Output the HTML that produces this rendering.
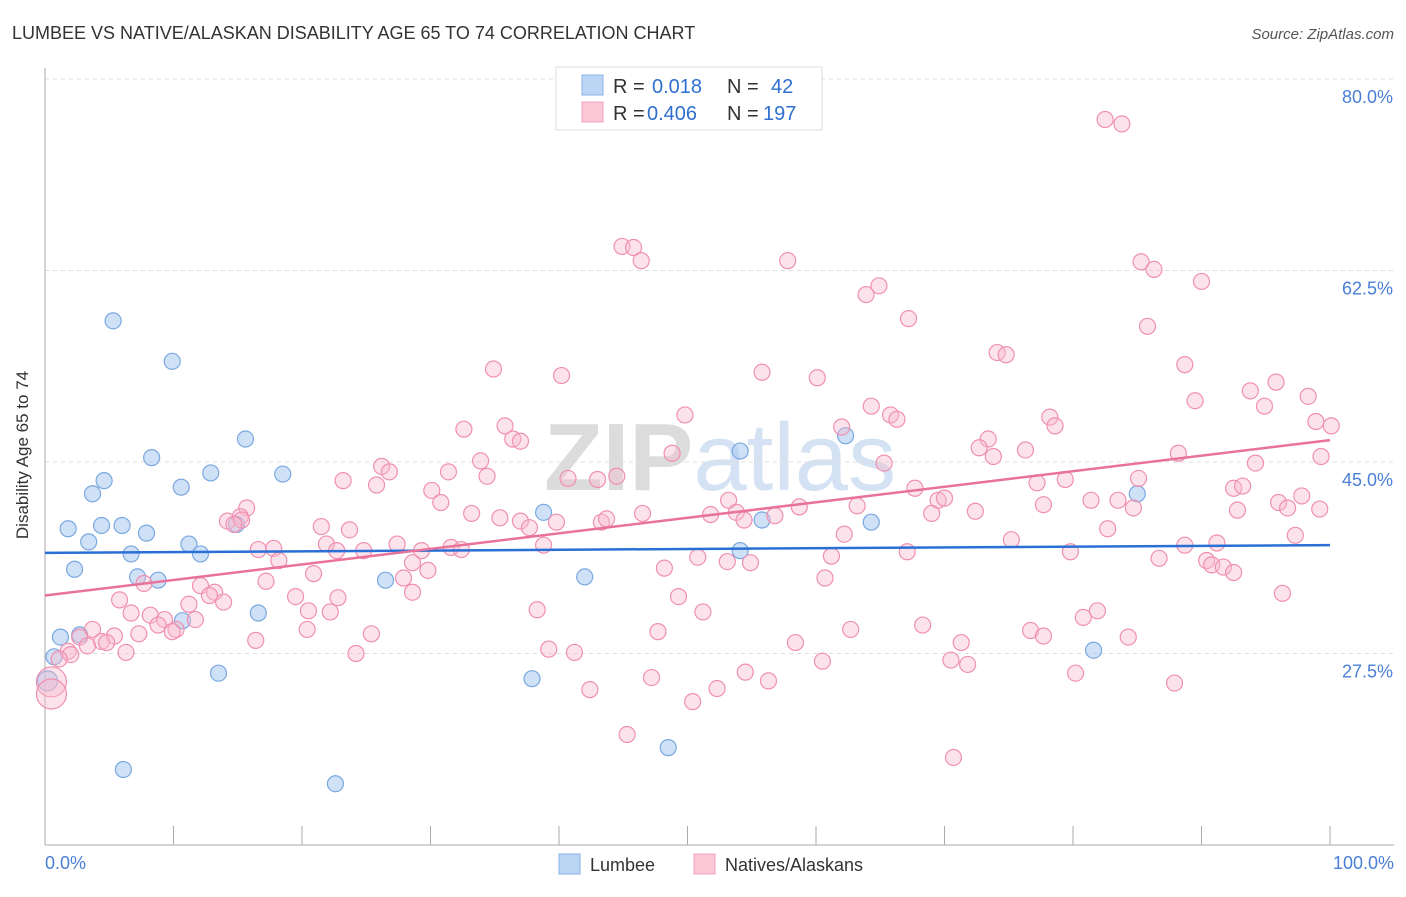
<!DOCTYPE html>
<html><head><meta charset="utf-8"><style>
body{margin:0;background:#fff;font-family:"Liberation Sans",sans-serif}
svg text{font-family:"Liberation Sans",sans-serif}
</style></head><body>
<svg id="chart" width="1406" height="892" xmlns="http://www.w3.org/2000/svg">
<text x="12" y="39" font-size="18" fill="#333">LUMBEE VS NATIVE/ALASKAN DISABILITY AGE 65 TO 74 CORRELATION CHART</text>
<text x="1394" y="39" font-size="15" fill="#555" font-style="italic" text-anchor="end">Source: ZipAtlas.com</text>
<text x="720" y="490" font-size="96" fill="#e8e8e8" text-anchor="middle" font-family="Liberation Serif"><tspan fill="#dcdcdc" font-weight="bold">ZIP</tspan><tspan fill="#d4e2f4">atlas</tspan></text>
<g id="grid"></g>
<g id="axes"></g>
<g id="pts"></g>
<g id="trend"></g>
<text x="28" y="455" font-size="17" fill="#333" transform="rotate(-90 28 455)" text-anchor="middle">Disability Age 65 to 74</text>
<text x="45" y="869" font-size="18" fill="#4a7fd6">0.0%</text>
<text x="1394" y="869" font-size="18" fill="#4a7fd6" text-anchor="end">100.0%</text>
<g>
<rect x="556" y="67" width="266" height="63" fill="#fff" stroke="#ddd"/>
<rect x="582" y="75" width="21" height="20" fill="#bcd5f5" stroke="#8ab2e6"/>
<rect x="582" y="102" width="21" height="20" fill="#fbc8d7" stroke="#f0a0bb"/>
<text x="613" y="93" font-size="20" fill="#333">R = </text><text x="652" y="93" font-size="20" fill="#2f6fd0">0.018</text>
<text x="727" y="93" font-size="20" fill="#333">N = </text><text x="771" y="93" font-size="20" fill="#2f6fd0">42</text>
<text x="613" y="120" font-size="20" fill="#333">R = </text><text x="647" y="120" font-size="20" fill="#2f6fd0">0.406</text>
<text x="727" y="120" font-size="20" fill="#333">N = </text><text x="763" y="120" font-size="20" fill="#2f6fd0">197</text>
</g>
<g>
<rect x="559" y="854" width="21" height="20" fill="#bcd5f5" stroke="#8ab2e6"/>
<text x="590" y="871" font-size="18" fill="#333">Lumbee</text>
<rect x="694" y="854" width="21" height="20" fill="#fbc8d7" stroke="#f0a0bb"/>
<text x="725" y="871" font-size="18" fill="#333">Natives/Alaskans</text>
</g>
</svg>
<script>
const yTicks=[27.5,45.0,62.5,80.0];
const yTickLabels=["27.5%","45.0%","62.5%","80.0%"];
const xTicks=[0,10,20,30,40,50,60,70,80,90,100];
const lumbeeX=[5.3,9.9,15.6,8.3,4.6,3.7,10.6,12.9,18.5,1.8,3.4,4.4,6.0,7.9,14.9,11.2,12.1,6.7,2.3,7.2,8.8,10.7,16.6,1.2,2.7,0.7,0.2,13.5,6.1,22.6,26.5,38.8,42.0,37.9,48.5,54.1,54.1,55.8,62.3,64.3,85.0,81.6];
const lumbeeY=[57.9,54.2,47.1,45.4,43.3,42.1,42.7,44.0,43.9,38.9,37.7,39.2,39.2,38.5,39.3,37.5,36.6,36.6,35.2,34.5,34.2,30.5,31.2,29.0,29.2,27.2,25.0,25.7,16.9,15.6,34.2,40.4,34.5,25.2,18.9,46.0,36.9,39.7,47.4,39.5,42.1,27.8];
const nativeX=[82.5,83.8,44.9,45.8,46.4,57.8,85.3,86.3,90.0,64.9,63.9,67.2,85.8,74.1,74.8,34.9,40.2,55.8,60.1,88.7,95.8,93.8,98.3,89.5,94.9,64.3,49.8,65.8,66.3,78.2,78.6,98.9,100.1,62.0,35.8,32.6,36.4,37.0,73.4,72.7,73.8,76.3,88.2,99.3,48.8,65.3,94.2,33.9,26.2,26.8,31.4,34.4,23.2,25.8,40.7,43.0,44.5,67.7,77.2,79.4,85.1,92.5,93.2,97.8,30.1,30.8,81.4,83.5,77.7,69.5,70.0,53.2,15.7,33.2,46.5,51.8,58.7,63.2,96.0,92.8,96.7,99.2,84.7,72.4,69.0,14.2,15.2,15.3,14.7,35.4,37.0,39.8,43.3,43.7,53.8,54.4,56.8,21.5,23.7,37.7,62.2,82.7,97.3,91.2,75.2,16.6,17.8,21.9,27.4,29.3,31.6,32.4,38.8,88.7,67.1,79.8,61.2,18.2,22.7,24.8,28.6,50.8,53.1,54.9,86.7,90.4,90.8,91.7,48.2,20.9,27.9,29.8,92.5,60.7,7.7,17.2,12.1,13.2,12.8,28.6,49.3,19.5,22.8,5.8,13.9,11.2,6.7,8.2,20.5,22.2,38.3,51.2,81.9,80.8,96.3,9.3,11.7,8.8,10.2,9.9,3.7,20.4,25.4,47.7,62.7,68.3,76.7,77.7,84.3,2.7,5.4,7.3,16.4,4.4,4.8,3.3,1.8,6.3,2.0,24.2,39.2,41.2,58.4,71.3,60.5,70.5,71.8,1.1,80.2,47.2,56.3,54.5,52.3,42.4,50.4,87.9,45.3,70.7,0.5,0.5];
const nativeY=[76.3,75.9,64.7,64.6,63.4,63.4,63.3,62.6,61.5,61.1,60.3,58.1,57.4,55.0,54.8,53.5,52.9,53.2,52.7,53.9,52.3,51.5,51.0,50.6,50.1,50.1,49.3,49.3,48.9,49.1,48.3,48.7,48.3,48.2,48.3,48.0,47.1,46.9,47.1,46.3,45.5,46.1,45.8,45.5,45.8,44.9,44.9,45.1,44.6,44.1,44.1,43.7,43.3,42.9,43.5,43.4,43.7,42.6,43.1,43.4,43.5,42.6,42.8,41.9,42.4,41.3,41.5,41.5,41.1,41.5,41.7,41.5,40.8,40.3,40.3,40.2,40.9,41.0,41.3,40.6,40.8,40.7,40.8,40.5,40.3,39.6,40.0,39.7,39.3,39.9,39.6,39.5,39.5,39.8,40.4,39.7,40.1,39.1,38.8,39.0,38.4,38.9,38.3,37.6,37.9,37.0,37.1,37.5,37.5,36.9,37.2,37.0,37.4,37.4,36.8,36.8,36.4,36.0,36.9,36.9,35.8,36.3,35.9,35.8,36.2,36.0,35.6,35.4,35.3,34.8,34.4,35.1,34.9,34.4,33.9,34.1,33.7,33.1,32.8,33.1,32.7,32.7,32.6,32.4,32.2,32.0,31.2,31.0,31.4,31.3,31.5,31.3,31.4,30.8,33.0,30.6,30.6,30.1,29.7,29.5,29.7,29.7,29.3,29.5,29.7,30.1,29.6,29.1,29.0,29.0,29.1,29.3,28.7,28.6,28.5,28.2,27.7,27.6,27.4,27.5,27.9,27.6,28.5,28.5,26.8,26.9,26.5,27.0,25.7,25.3,25.0,25.8,24.3,24.2,23.1,24.8,20.1,18.0,24.9,23.8];
const lumbeeTrend=[36.7,37.4];
const nativeTrend=[32.8,47.0];
const NS="http://www.w3.org/2000/svg";
const X=v=>45+v*12.85;
const Y=v=>79+(80-v)*10.943;
function mk(tag,attrs,parent){const e=document.createElementNS(NS,tag);for(const k in attrs)e.setAttribute(k,attrs[k]);parent.appendChild(e);return e;}
const grid=document.getElementById('grid'),axes=document.getElementById('axes'),pts=document.getElementById('pts'),trend=document.getElementById('trend');
yTicks.forEach((t,i)=>{
 const l=mk('line',{x1:45,x2:1394,y1:Y(t),y2:Y(t),stroke:'#ddd','stroke-dasharray':'4,4'},grid);
 
 
 const tx=mk('text',{x:1393,y:Y(t)+24,'font-size':18,fill:'#4a7fd6','text-anchor':'end'},grid);
 tx.textContent=yTickLabels[i];
 
 
});
const ya=mk('line',{x1:45,x2:45,y1:68,y2:845,stroke:'#aaa'},axes);


const xa=mk('line',{x1:45,x2:1394,y1:845,y2:845,stroke:'#aaa'},axes);


xTicks.forEach(t=>{
 const l=mk('line',{x1:X(t),x2:X(t),y1:826,y2:845,stroke:'#aaa'},axes);
 
 
});
lumbeeX.forEach((x,i)=>{
 const c=mk('circle',{cx:X(x),cy:Y(lumbeeY[i]),r:(i===26?10:8),fill:'rgba(168,200,240,0.55)',stroke:'#7aa8e0','stroke-width':1.2},pts);
 
 
});
nativeX.forEach((x,i)=>{
 const big=i>=nativeX.length-2;
 const c=mk('circle',{cx:X(x),cy:Y(nativeY[i]),r:big?15:8,fill:'rgba(248,184,204,0.4)',stroke:'#f090b0','stroke-width':1.2},pts);
 
 
});
const bl=mk('line',{x1:X(0),x2:X(100),y1:Y(lumbeeTrend[0]),y2:Y(lumbeeTrend[1]),stroke:'#2a6fd6','stroke-width':2.5},trend);


const pl=mk('line',{x1:X(0),x2:X(100),y1:Y(nativeTrend[0]),y2:Y(nativeTrend[1]),stroke:'#e8729a','stroke-width':2.5},trend);


</script>
</body></html>
